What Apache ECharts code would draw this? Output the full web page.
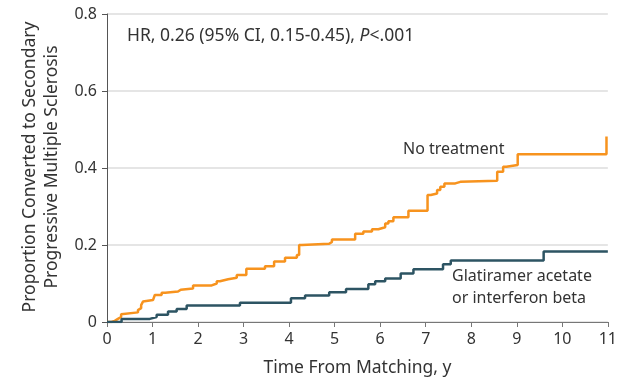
<!DOCTYPE html>
<html>
<head>
<meta charset="utf-8">
<script src="https://cdn.jsdelivr.net/npm/echarts@6/dist/echarts.min.js"></script>
<style>
  html, body { margin: 0; padding: 0; background: #fff; }
  #chart { width: 620px; height: 386px; }
</style>
</head>
<body>
<div id="chart"></div>
<script>
// Cumulative proportion converted to SPMS, Kaplan-Meier style steps: [years, proportion]
const noTreatment = [
  [0, 0], [0.10, 0.003], [0.17, 0.008], [0.24, 0.013], [0.31, 0.020], [0.35, 0.025],
  [0.68, 0.031], [0.72, 0.036], [0.75, 0.044], [0.79, 0.053], [0.83, 0.057],
  [1.01, 0.062], [1.05, 0.070], [1.20, 0.076], [1.28, 0.079], [1.56, 0.084],
  [1.62, 0.087], [1.89, 0.095], [2.30, 0.100], [2.41, 0.106], [2.48, 0.111],
  [2.66, 0.115], [2.85, 0.122], [3.06, 0.138], [3.47, 0.145], [3.67, 0.157],
  [3.91, 0.167], [4.17, 0.174], [4.22, 0.200], [4.28, 0.203], [4.88, 0.208],
  [4.94, 0.214], [5.45, 0.229], [5.63, 0.235], [5.82, 0.241], [5.96, 0.246],
  [6.11, 0.256], [6.18, 0.262], [6.29, 0.272], [6.62, 0.289], [7.04, 0.330],
  [7.11, 0.334], [7.25, 0.343], [7.32, 0.351], [7.41, 0.360], [7.65, 0.364],
  [7.76, 0.367], [8.57, 0.390], [8.70, 0.403], [8.77, 0.408], [9.02, 0.436],
  [10.97, 0.482]
];
const glatiramerInterferon = [
  [0, 0], [0.32, 0.008], [0.94, 0.013], [1.09, 0.019], [1.34, 0.027], [1.53, 0.034],
  [1.75, 0.043], [2.92, 0.050], [4.04, 0.062], [4.35, 0.069], [4.88, 0.077],
  [5.25, 0.086], [5.74, 0.098], [5.89, 0.106], [6.11, 0.113], [6.45, 0.126],
  [6.73, 0.137], [7.38, 0.150], [7.55, 0.160], [9.59, 0.183], [11, 0.183]
];
const xTicks = [0, 1, 2, 3, 4, 5, 6, 7, 8, 9, 10, 11];
const yTicks = [0, 0.2, 0.4, 0.6, 0.8];

const FONT = '"Noto Sans", sans-serif';
const TEXT = '#333';

const chart = echarts.init(document.getElementById('chart'), null, { renderer: 'canvas' });
chart.setOption({
  animation: false,
  grid: { left: 107, right: 12, top: 14, bottom: 64, containLabel: false },
  xAxis: {
    type: 'value',
    min: xTicks[0], max: xTicks[xTicks.length - 1], interval: 1,
    name: 'Time From Matching, y',
    nameLocation: 'middle', nameGap: 37,
    nameTextStyle: { fontFamily: FONT, fontSize: 17.5, color: TEXT },
    axisLine: { show: true, lineStyle: { color: '#777', width: 1 } },
    axisTick: { show: true, length: 5, lineStyle: { color: '#777' } },
    axisLabel: { fontFamily: FONT, fontSize: 16, color: TEXT, margin: 9 },
    splitLine: { show: false }
  },
  yAxis: {
    type: 'value',
    min: yTicks[0], max: yTicks[yTicks.length - 1], interval: 0.2,
    axisLine: { show: true, lineStyle: { color: '#555', width: 1 } },
    axisTick: { show: true, length: 5, lineStyle: { color: '#555' } },
    axisLabel: {
      fontFamily: FONT, fontSize: 16, color: TEXT, margin: 10,
      formatter: v => (v === 0 ? '0' : v.toFixed(1))
    },
    splitLine: { show: true, lineStyle: { color: '#dcdcdc', width: 1.5 } }
  },
  series: [
    {
      name: 'No treatment',
      type: 'line', step: 'end', symbol: 'none',
      data: noTreatment,
      lineStyle: { color: '#F7931E', width: 2.5 },
      z: 3
    },
    {
      name: 'Glatiramer acetate or interferon beta',
      type: 'line', step: 'end', symbol: 'none',
      data: glatiramerInterferon,
      lineStyle: { color: '#2D5463', width: 2.5 },
      z: 4
    }
  ],
  graphic: [
    {
      type: 'text', left: 127, top: 27,
      style: {
        text: 'HR, 0.26 (95% CI, 0.15-0.45), {i|P}<.001',
        font: '17.5px ' + FONT, fill: TEXT,
        rich: { i: { fontStyle: 'italic', fontFamily: FONT, fontSize: 17.5, fill: TEXT } }
      }
    },
    {
      type: 'text', left: 403, top: 141,
      style: { text: 'No treatment', font: '16px ' + FONT, fill: TEXT }
    },
    {
      type: 'text', left: 452, top: 265,
      style: {
        text: 'Glatiramer acetate\nor interferon beta',
        font: '16px ' + FONT, fill: TEXT, lineHeight: 22
      }
    },
    {
      type: 'text', x: 41, y: 167, rotation: Math.PI / 2,
      style: {
        text: 'Proportion Converted to Secondary\nProgressive Multiple Sclerosis',
        font: '17.5px ' + FONT, fill: TEXT, lineHeight: 22,
        textAlign: 'center', textVerticalAlign: 'middle'
      }
    }
  ]
});
</script>
</body>
</html>
